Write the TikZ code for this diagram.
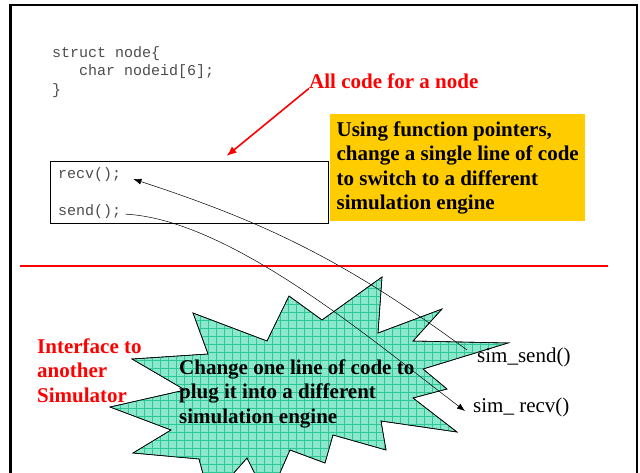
\documentclass[tikz,border=0pt]{standalone}
\usepackage{fontspec}
\setmainfont{Liberation Serif}
\setmonofont{Liberation Mono}
\usetikzlibrary{arrows.meta, positioning, patterns.meta}

\definecolor{notegold}{HTML}{FFCC00}
\definecolor{burstfill}{HTML}{8CE8CC}
\definecolor{burstgrid}{HTML}{2CC896}

\tikzset{
  codeline/.style = {font=\ttfamily\fontsize{15}{18.7}\selectfont, text=black!70, align=left, inner sep=0pt, anchor=base west},
  redlabel/.style = {font=\bfseries\fontsize{21}{24.5}\selectfont, text=red, align=left, inner sep=0pt, anchor=base west},
  boldtext/.style = {font=\bfseries\fontsize{21}{24.5}\selectfont, align=left, inner sep=0pt, anchor=base west},
  simcall/.style = {font=\fontsize{21}{24.5}\selectfont, inner sep=0pt, anchor=base west},
  codebox/.style = {rectangle, draw, line width=1.2pt, minimum width=278pt, minimum height=62pt, anchor=north west},
  notebox/.style = {rectangle, fill=notegold, font=\bfseries\fontsize{21}{24.5}\selectfont, align=left,
                    inner sep=0pt, minimum width=255pt, minimum height=107pt, anchor=north west},
  burst/.style = {draw, line width=0.6pt, fill=burstfill},
  arrow/.style = {line width=0.5pt, -{Latex[length=8pt, width=6pt]}},
  redarrow/.style = {red, line width=1.6pt, -{Latex[length=10pt, width=8pt]}}
}

\begin{document}
\begin{tikzpicture}[x=1pt, y=-1pt]
    \useasboundingbox (0,0) rectangle (640,472);
    \clip (0,0) rectangle (640,472);

    % slide frame and separator
    \draw[line width=2.5pt] (10.5,480) -- (10.5,5) -- (637,5) -- (637,480);
    \draw[red, line width=2.8pt] (20,266) -- (608,266);

    % upper half: the node (base = last line)
    \node[codeline] (structdef) at (52,94.5) {struct node\{\\\hphantom{abc}char nodeid[6];\\\}};
    \node[redlabel] (allcode) at (309,88) {All code for a node};
    \node[codebox] (nodebox) at (50,161) {};
    \node[codeline] (recv) at (58,178) {recv();};
    \node[codeline] (send) at (58,215) {send();};
    \node[notebox] (pointers) at (330,114) {Using function pointers,\\change a single line of code\\to switch to a different\\simulation engine};

    \draw[redarrow] (allcode.south west) -- ([xshift=37pt, yshift=5pt]nodebox.north);

    % lower half: the other simulator
    \path[burst, postaction={pattern={Lines[angle=0, distance=8pt, line width=0.6pt]}, pattern color=burstgrid},
          postaction={pattern={Lines[angle=90, distance=8pt, line width=0.6pt]}, pattern color=burstgrid}]
      (110,407) -- (171,430) -- (133,453) -- (199,459) -- (210,500) -- (247,458) -- (268,500)
      -- (290,450) -- (325,463) -- (333,435) -- (386,450) -- (381,421) -- (457,432) -- (413,398)
      -- (447,389) -- (423,369) -- (508,343) -- (413,341) -- (442,309) -- (378,333) -- (382,277)
      -- (322,320) -- (289,296) -- (267,341) -- (193,313) -- (208,354) -- (132,359) -- (185,390) -- cycle;
    \draw[line width=0.6pt] (110,407) -- (171,430) -- (133,453) -- (199,459) -- (210,500) -- (247,458) -- (268,500)
      -- (290,450) -- (325,463) -- (333,435) -- (386,450) -- (381,421) -- (457,432) -- (413,398)
      -- (447,389) -- (423,369) -- (508,343) -- (413,341) -- (442,309) -- (378,333) -- (382,277)
      -- (322,320) -- (289,296) -- (267,341) -- (193,313) -- (208,354) -- (132,359) -- (185,390) -- cycle;

    \node[redlabel] (iface) at (37,402) {Interface to\\another\\Simulator};
    \node[simcall] (simsend) at (477,362) {sim\_send()};
    \node[simcall] (simrecv) at (473,412) {sim\_ recv()};
    \node[boldtext] (plugin) at (179,423) {Change one line of code to\\plug it into a different\\simulation engine};

    % function pointer links
    \draw[arrow] ([xshift=-10pt, yshift=7pt]simsend.west) to[bend right=9] ([xshift=12pt, yshift=-5pt]recv.east);
    \draw[arrow] ([xshift=4pt, yshift=-3pt]send.east) to[out=-3, in=143, looseness=0.7] ([xshift=-8pt, yshift=-4pt]simrecv.west);

\end{tikzpicture}
\end{document}
